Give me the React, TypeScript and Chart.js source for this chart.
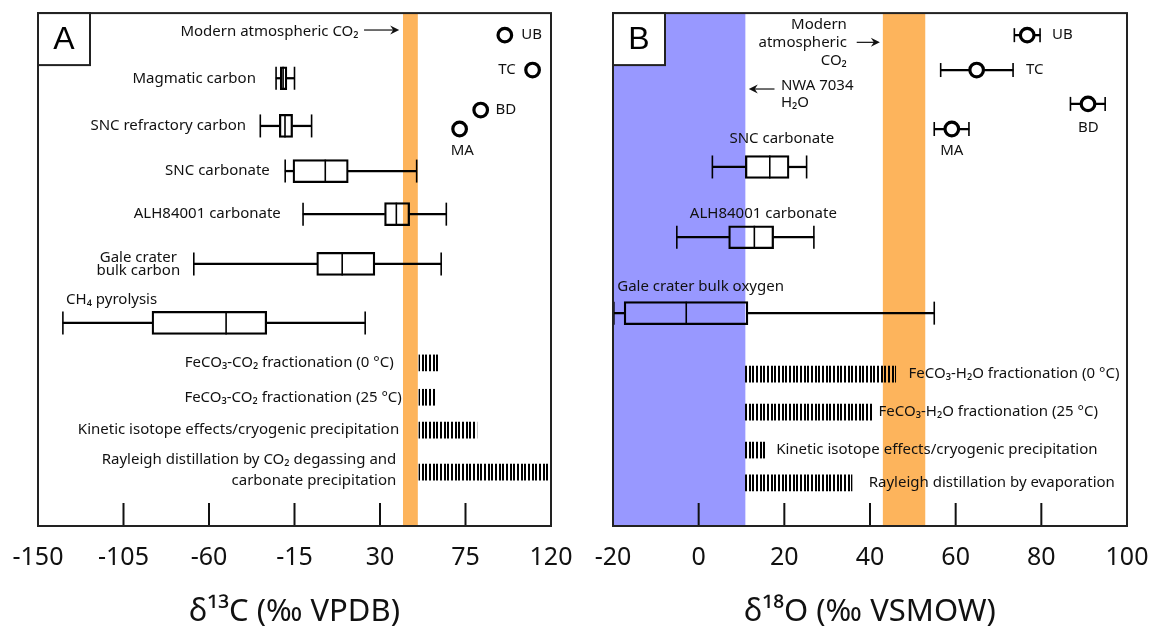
import React, { useEffect, useRef } from 'react';
import { Chart, registerables } from 'chart.js';
Chart.register(...registerables);

// ---------- Panel A (δ13C) ----------
const A_X_TICKS = [-150, -105, -60, -15, 30, 75, 120];
const A_BOX_NAMES = ['Magmatic carbon', 'SNC refractory carbon', 'SNC carbonate', 'ALH84001 carbonate', 'Gale crater bulk carbon', 'CH₄ pyrolysis'];
const A_BOX_ROW = [12.7, 22.0, 30.8, 39.2, 48.9, 60.4];
const A_BOX_MIN = [-24.7, -33, -19.9, -10.5, -68, -136.9];
const A_BOX_Q1 = [-22.5, -23, -15.8, 32.4, -3.3, -90];
const A_BOX_MED = [-21, -20, 1.2, 38.6, 10.1, -51];
const A_BOX_Q3 = [-19, -16, 13.3, 45.6, 27.3, -29.6];
const A_BOX_MAX = [-15, -6, 49.3, 64.9, 62.2, 22.2];
const A_RANGE_NAMES = ['FeCO₃-CO₂ fractionation (0 °C)', 'FeCO₃-CO₂ fractionation (25 °C)', 'Kinetic isotope effects/cryogenic precipitation', 'Rayleigh distillation by CO₂ degassing and carbonate precipitation'];
const A_RANGE_ROW = [68.2, 74.9, 81.3, 89.5];
const A_RANGE_LO = [50.5, 50.5, 50.5, 50.5];
const A_RANGE_HI = [61.2, 58.8, 81, 120];
const A_PT_NAMES = ['UB', 'TC', 'BD', 'MA'];
const A_PT_ROW = [4.3, 11.1, 18.9, 22.6];
const A_PT_VAL = [95.7, 110.3, 83, 71.9];
const A_ATM_BAND = [42.1, 49.9];

// ---------- Panel B (δ18O) ----------
const B_X_TICKS = [-20, 0, 20, 40, 60, 80, 100];
const B_BOX_NAMES = ['SNC carbonate', 'ALH84001 carbonate', 'Gale crater bulk oxygen'];
const B_BOX_ROW = [30.0, 43.7, 58.5];
const B_BOX_MIN = [3.2, -5.1, -19.8];
const B_BOX_Q1 = [10.9, 7, -17.4];
const B_BOX_MED = [16.6, 13, -2.9];
const B_BOX_Q3 = [21.1, 17.5, 11.5];
const B_BOX_MAX = [25.2, 26.9, 55];
const B_RANGE_NAMES = ['FeCO₃-H₂O fractionation (0 °C)', 'FeCO₃-H₂O fractionation (25 °C)', 'Kinetic isotope effects/cryogenic precipitation', 'Rayleigh distillation by evaporation'];
const B_RANGE_ROW = [70.4, 77.8, 85.2, 91.6];
const B_RANGE_LO = [10.9, 10.9, 10.9, 10.9];
const B_RANGE_HI = [46, 40.5, 15.6, 35.8];
const B_PT_NAMES = ['UB', 'TC', 'BD', 'MA'];
const B_PT_ROW = [4.3, 11.1, 17.7, 22.6];
const B_PT_VAL = [76.7, 64.9, 90.9, 59.1];
const B_PT_LO = [73.7, 56.5, 86.8, 55];
const B_PT_HI = [79.7, 73.4, 94.9, 63.1];
const B_WATER_BAND = [-20, 10.9];
const B_ATM_BAND = [43, 52.9];

const ORANGE = 'rgb(253,180,92)';
const BLUE = 'rgb(152,152,255)';
const FONT = '"Noto Sans", "DejaVu Sans", sans-serif';

type Txt = { t: string; x: number; y: number; a: CanvasTextAlign };
type Arrow = { x1: number; x2: number; y: number };

// annotation anchors (data coordinates)
const A_TEXTS: Txt[] = [
  { t: 'Modern atmospheric CO₂', x: 18.7, y: 3.7, a: 'right' },
  { t: A_BOX_NAMES[0], x: -35.3, y: A_BOX_ROW[0], a: 'right' },
  { t: A_BOX_NAMES[1], x: -40.5, y: A_BOX_ROW[1], a: 'right' },
  { t: A_BOX_NAMES[2], x: -28, y: A_BOX_ROW[2], a: 'right' },
  { t: A_BOX_NAMES[3], x: -22.2, y: A_BOX_ROW[3], a: 'right' },
  { t: 'Gale crater', x: -97.2, y: 47.6, a: 'center' },
  { t: 'bulk carbon', x: -97.2, y: 50.3, a: 'center' },
  { t: A_BOX_NAMES[5], x: -135.2, y: 55.9, a: 'left' },
  { t: A_RANGE_NAMES[0], x: 37.2, y: A_RANGE_ROW[0], a: 'right' },
  { t: A_RANGE_NAMES[1], x: 41.5, y: A_RANGE_ROW[1], a: 'right' },
  { t: A_RANGE_NAMES[2], x: 40.1, y: A_RANGE_ROW[2], a: 'right' },
  { t: 'Rayleigh distillation by CO₂ degassing and', x: 38.6, y: 87.1, a: 'right' },
  { t: 'carbonate precipitation', x: 38.6, y: 91.2, a: 'right' },
  { t: A_PT_NAMES[0], x: 104.4, y: A_PT_ROW[0], a: 'left' },
  { t: A_PT_NAMES[1], x: 101.5, y: A_PT_ROW[1], a: 'right' },
  { t: A_PT_NAMES[2], x: 90.8, y: A_PT_ROW[2], a: 'left' },
  { t: A_PT_NAMES[3], x: 73.3, y: 26.9, a: 'center' },
];
const A_ARROWS: Arrow[] = [{ x1: 21.6, x2: 40.1, y: 3.3 }];

const B_TEXTS: Txt[] = [
  { t: 'Modern', x: 34.6, y: 2.3, a: 'right' },
  { t: 'atmospheric', x: 34.6, y: 5.7, a: 'right' },
  { t: 'CO₂', x: 34.6, y: 9.2, a: 'right' },
  { t: 'NWA 7034', x: 19.2, y: 14.2, a: 'left' },
  { t: 'H₂O', x: 19.2, y: 17.5, a: 'left' },
  { t: B_BOX_NAMES[0], x: 19.4, y: 24.4, a: 'center' },
  { t: B_BOX_NAMES[1], x: 15.1, y: 39.2, a: 'center' },
  { t: B_BOX_NAMES[2], x: -19, y: 53.4, a: 'left' },
  { t: B_RANGE_NAMES[0], x: 49, y: B_RANGE_ROW[0], a: 'left' },
  { t: B_RANGE_NAMES[1], x: 42, y: B_RANGE_ROW[1], a: 'left' },
  { t: B_RANGE_NAMES[2], x: 18.1, y: B_RANGE_ROW[2], a: 'left' },
  { t: B_RANGE_NAMES[3], x: 39.7, y: B_RANGE_ROW[3], a: 'left' },
  { t: B_PT_NAMES[0], x: 82.5, y: B_PT_ROW[0], a: 'left' },
  { t: B_PT_NAMES[1], x: 76.4, y: B_PT_ROW[1], a: 'left' },
  { t: B_PT_NAMES[2], x: 91, y: 22.4, a: 'center' },
  { t: B_PT_NAMES[3], x: 59.1, y: 26.9, a: 'center' },
];
const B_ARROWS: Arrow[] = [
  { x1: 36.9, x2: 42.3, y: 5.7 },
  { x1: 17.7, x2: 11.7, y: 14.8 },
];

type Spec = {
  letter: string;
  ticks: number[];
  title: string;
  bands: { lo: number; hi: number; color: string }[];
  boxRow: number[]; bMin: number[]; bQ1: number[]; bMed: number[]; bQ3: number[]; bMax: number[];
  rRow: number[]; rLo: number[]; rHi: number[];
  pRow: number[]; pVal: number[]; pLo?: number[]; pHi?: number[];
  texts: Txt[]; arrows: Arrow[];
};

function stripePattern(): CanvasPattern | string {
  const c = document.createElement('canvas');
  c.width = 11; c.height = 4;
  const g = c.getContext('2d');
  if (!g) return '#000';
  g.fillStyle = '#000';
  g.fillRect(0, 0, 2, 4);
  g.fillRect(4, 0, 2, 4);
  g.fillRect(7, 0, 2, 4);
  return g.createPattern(c, 'repeat') || '#000';
}

function decorPlugin(spec: Spec) {
  return {
    id: 'decor' + spec.letter,
    beforeDatasetsDraw(chart: any) {
      const { ctx, chartArea } = chart;
      const x = chart.scales.x;
      ctx.save();
      for (const b of spec.bands) {
        const x1 = x.getPixelForValue(b.lo);
        const x2 = x.getPixelForValue(b.hi);
        ctx.fillStyle = b.color;
        ctx.fillRect(x1, chartArea.top, x2 - x1, chartArea.bottom - chartArea.top);
      }
      ctx.restore();
    },
    afterDatasetsDraw(chart: any) {
      const { ctx, chartArea } = chart;
      const x = chart.scales.x;
      const y = chart.scales.y;
      ctx.save();
      // inner tick marks
      ctx.strokeStyle = '#111';
      ctx.lineWidth = 2;
      for (const t of spec.ticks) {
        const px = x.getPixelForValue(t);
        ctx.beginPath();
        ctx.moveTo(px, chartArea.bottom);
        ctx.lineTo(px, chartArea.bottom - 23);
        ctx.stroke();
      }
      // texts
      ctx.fillStyle = '#111';
      ctx.font = '15px ' + FONT;
      ctx.textBaseline = 'middle';
      for (const tx of spec.texts) {
        ctx.textAlign = tx.a;
        ctx.fillText(tx.t, x.getPixelForValue(tx.x), y.getPixelForValue(tx.y));
      }
      // arrows
      ctx.lineWidth = 1.2;
      for (const ar of spec.arrows) {
        const x1 = x.getPixelForValue(ar.x1);
        const x2 = x.getPixelForValue(ar.x2);
        const py = y.getPixelForValue(ar.y);
        const dir = x2 > x1 ? 1 : -1;
        ctx.beginPath();
        ctx.moveTo(x1, py);
        ctx.lineTo(x2 - dir * 4, py);
        ctx.stroke();
        ctx.beginPath();
        ctx.moveTo(x2, py);
        ctx.lineTo(x2 - dir * 9, py - 4.5);
        ctx.lineTo(x2 - dir * 6, py);
        ctx.lineTo(x2 - dir * 9, py + 4.5);
        ctx.closePath();
        ctx.fill();
      }
      // frame
      ctx.strokeStyle = '#222';
      ctx.lineWidth = 2;
      ctx.strokeRect(chartArea.left, chartArea.top, chartArea.right - chartArea.left, chartArea.bottom - chartArea.top);
      // panel letter box
      ctx.fillStyle = '#fff';
      ctx.fillRect(chartArea.left, chartArea.top, 52, 52);
      ctx.strokeRect(chartArea.left, chartArea.top, 52, 52);
      ctx.fillStyle = '#000';
      ctx.font = '32px "Liberation Sans", Arial, sans-serif';
      ctx.textAlign = 'center';
      ctx.textBaseline = 'middle';
      ctx.fillText(spec.letter, chartArea.left + 26, chartArea.top + 27);
      ctx.restore();
    },
  };
}

function buildChart(canvas: HTMLCanvasElement, spec: Spec, padL: number, padR: number) {
  const pattern = stripePattern();
  const boxes = spec.boxRow.map((r, i) => ({ x: [spec.bQ1[i], spec.bQ3[i]], y: r }));
  const whiskers = spec.boxRow.flatMap((r, i) => [
    { x: [spec.bMin[i], spec.bQ1[i]], y: r },
    { x: [spec.bQ3[i], spec.bMax[i]], y: r },
  ]);
  const boxLines = spec.boxRow.flatMap((r, i) => [
    { x: spec.bMin[i], y: r },
    { x: spec.bMed[i], y: r },
    { x: spec.bMax[i], y: r },
  ]);
  const ranges = spec.rRow.map((r, i) => ({ x: [spec.rLo[i], spec.rHi[i]], y: r }));
  const pts = spec.pRow.map((r, i) => ({ x: spec.pVal[i], y: r }));
  const datasets: any[] = [
    {
      type: 'scatter', order: 0, data: pts,
      pointStyle: 'circle', pointRadius: 6.8, pointBorderWidth: 3.2,
      backgroundColor: '#fff', borderColor: '#000',
    },
    {
      type: 'scatter', order: 1, data: boxLines,
      pointStyle: 'line', pointRotation: 90, pointRadius: 11.5, pointBorderWidth: 1.6,
      borderColor: '#000', backgroundColor: '#000',
    },
    {
      type: 'bar', indexAxis: 'y', order: 2, grouped: false, data: boxes,
      barThickness: 23, backgroundColor: 'rgba(0,0,0,0)', borderColor: '#000',
      borderWidth: 1.6, borderSkipped: false,
    },
    {
      type: 'bar', indexAxis: 'y', order: 3, grouped: false, data: whiskers,
      barThickness: 1.6, backgroundColor: '#000', borderWidth: 0,
    },
    {
      type: 'bar', indexAxis: 'y', order: 4, grouped: false, data: ranges,
      barThickness: 16, backgroundColor: pattern, borderWidth: 0,
    },
  ];
  if (spec.pLo && spec.pHi) {
    const lo = spec.pLo, hi = spec.pHi;
    datasets.push({
      type: 'bar', indexAxis: 'y', order: 3, grouped: false,
      data: spec.pRow.map((r, i) => ({ x: [lo[i], hi[i]], y: r })),
      barThickness: 1.6, backgroundColor: '#000', borderWidth: 0,
    });
    datasets.push({
      type: 'scatter', order: 1,
      data: spec.pRow.flatMap((r, i) => [{ x: lo[i], y: r }, { x: hi[i], y: r }]),
      pointStyle: 'line', pointRotation: 90, pointRadius: 7, pointBorderWidth: 1.6,
      borderColor: '#000', backgroundColor: '#000',
    });
  }
  return new Chart(canvas, {
    type: 'bar',
    data: { datasets },
    options: {
      animation: false,
      responsive: false,
      devicePixelRatio: 1,
      indexAxis: 'y',
      layout: { padding: { left: padL, right: padR, top: 13, bottom: 0 } },
      plugins: { legend: { display: false }, tooltip: { enabled: false } },
      events: [],
      scales: {
        x: {
          type: 'linear',
          position: 'bottom',
          min: spec.ticks[0],
          max: spec.ticks[spec.ticks.length - 1],
          offset: false,
          beginAtZero: false,
          afterBuildTicks: (s: any) => { s.ticks = spec.ticks.map((v) => ({ value: v })); },
          ticks: {
            autoSkip: false, maxRotation: 0, color: '#111', padding: 17,
            font: { family: FONT, size: 25 },
          },
          grid: { display: false, drawTicks: false },
          border: { display: false },
          title: {
            display: true, text: spec.title, color: '#111',
            font: { family: FONT, size: 31, lineHeight: 0.93 },
            padding: { top: 0, bottom: 0 },
          },
          afterFit: (s: any) => { s.height = 101; s.paddingLeft = 0; s.paddingRight = 0; },
        },
        y: {
          type: 'linear', min: 0, max: 100, reverse: true, display: false,
          offset: false, beginAtZero: false,
        },
      },
    } as any,
    plugins: [decorPlugin(spec) as any],
  });
}

export default function App() {
  const refA = useRef<HTMLCanvasElement>(null);
  const refB = useRef<HTMLCanvasElement>(null);
  useEffect(() => {
    if (!refA.current || !refB.current) return;
    const specA: Spec = {
      letter: 'A', ticks: A_X_TICKS, title: 'δ¹³C (‰ VPDB)',
      bands: [{ lo: A_ATM_BAND[0], hi: A_ATM_BAND[1], color: ORANGE }],
      boxRow: A_BOX_ROW, bMin: A_BOX_MIN, bQ1: A_BOX_Q1, bMed: A_BOX_MED, bQ3: A_BOX_Q3, bMax: A_BOX_MAX,
      rRow: A_RANGE_ROW, rLo: A_RANGE_LO, rHi: A_RANGE_HI,
      pRow: A_PT_ROW, pVal: A_PT_VAL,
      texts: A_TEXTS, arrows: A_ARROWS,
    };
    const specB: Spec = {
      letter: 'B', ticks: B_X_TICKS, title: 'δ¹⁸O (‰ VSMOW)',
      bands: [
        { lo: B_WATER_BAND[0], hi: B_WATER_BAND[1], color: BLUE },
        { lo: B_ATM_BAND[0], hi: B_ATM_BAND[1], color: ORANGE },
      ],
      boxRow: B_BOX_ROW, bMin: B_BOX_MIN, bQ1: B_BOX_Q1, bMed: B_BOX_MED, bQ3: B_BOX_Q3, bMax: B_BOX_MAX,
      rRow: B_RANGE_ROW, rLo: B_RANGE_LO, rHi: B_RANGE_HI,
      pRow: B_PT_ROW, pVal: B_PT_VAL, pLo: B_PT_LO, pHi: B_PT_HI,
      texts: B_TEXTS, arrows: B_ARROWS,
    };
    const ca = buildChart(refA.current, specA, 38, 580 - 551);
    const cb = buildChart(refB.current, specB, 613 - 580, 1152 - 1127);
    return () => { ca.destroy(); cb.destroy(); };
  }, []);
  return (
    <div style={{ position: 'fixed', left: 0, top: 0, width: 1152, height: 627, background: '#fff', overflow: 'hidden' }}>
      <canvas ref={refA} width={580} height={627} style={{ position: 'absolute', left: 0, top: 0, width: 580, height: 627 }} />
      <canvas ref={refB} width={572} height={627} style={{ position: 'absolute', left: 580, top: 0, width: 572, height: 627 }} />
    </div>
  );
}
